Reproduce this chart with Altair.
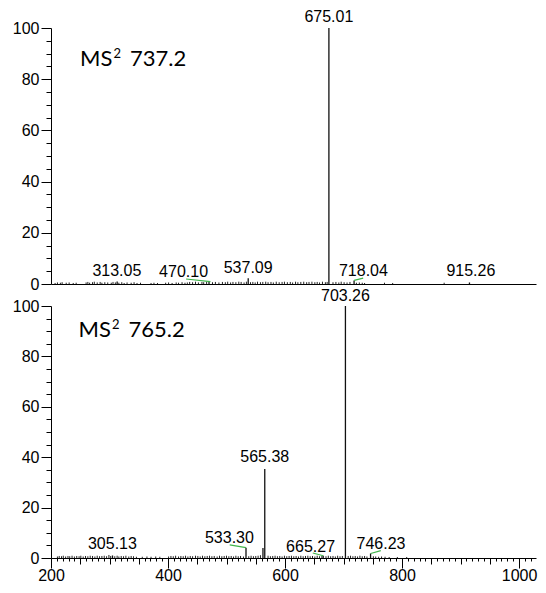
import altair as alt
import pandas as pd

# ---------------- data ----------------
# Panel 1: MS2 737.2
top_precursor = "737.2"
top_peak_mz = [313.05, 470.10, 537.09, 675.01, 718.04, 915.26]
top_peak_int = [1.0, 0.9, 2.2, 100.0, 1.4, 0.6]
top_label_text = ["313.05", "470.10", "537.09", "675.01", "718.04", "915.26"]
top_label_mz = [312.6, 426.6, 537.0, 675.0, 734.0, 917.7]
top_label_int = [3.0, 2.7, 4.3, 102.5, 3.0, 3.0]
top_leader_x1 = [430.9, 718.2]
top_leader_y1 = [1.95, 1.4]
top_leader_x2 = [472.5, 733.6]
top_leader_y2 = [0.9, 2.3]
top_noise = [
    (207, .4), (211, .6), (216, .5), (219, .7), (226, .5), (231, .6), (238, .4), (243, .5),
    (260, .6), (263, .8), (266, .5), (271, .7), (274, .9), (279, .6), (284, .8), (287, .5),
    (292, .7), (297, .6), (303, .5), (306, .8), (310, .6), (316, .5), (321, .7), (325, .4),
    (330, .6), (337, .5), (342, .7), (347, .4), (353, .5),
    (371, .4), (376, .5), (382, .4),
    (396, .5), (401, .6), (407, .4), (414, .6), (418, .5), (424, .7), (429, .5),
    (433, .6), (437, .8), (442, .7), (447, .9), (452, .6), (458, .8), (461, .7), (466, .9),
    (476, .7), (481, .8), (487, .6), (493, .8),
    (498, .7), (502, .9), (507, .6), (511, .8), (516, .7), (521, .9), (525, .8), (530, .6),
    (534, .9), (541, .7), (545, .8), (549, .6), (553, .9), (558, .7), (562, .8), (567, .9),
    (571, .7), (576, .8), (580, .6), (585, .9), (590, .7), (595, .8), (599, .9), (604, .7),
    (609, .8), (613, .6), (618, .9), (622, .7), (627, .8), (632, .9), (637, .7), (641, .8),
    (646, .9), (651, .7), (655, .8), (659, .6), (664, .9), (669, .7), (672, .8),
    (682, .7), (687, .8), (692, .6), (696, .9), (701, .7), (706, .6), (711, .8), (722, .5),
    (727, .6), (732, .5), (736, .4),
    (770, .5), (784, .4), (872, .5),
]

# Panel 2: MS2 765.2
bot_precursor = "765.2"
bot_peak_mz = [305.13, 533.30, 562.3, 565.38, 665.27, 703.26, 746.23]
bot_peak_int = [1.0, 4.1, 4.0, 35.3, 0.9, 100.0, 1.8]
bot_label_text = ["305.13", "533.30", "565.38", "665.27", "703.26", "746.23"]
bot_label_mz = [305.0, 505.0, 565.4, 643.7, 703.3, 764.0]
bot_label_int = [3.4, 5.9, 38.0, 2.5, 102.0, 3.4]
bot_leader_x1 = [505.5, 647.5, 746.5]
bot_leader_y1 = [5.2, 2.0, 1.8]
bot_leader_x2 = [533.3, 665.3, 763.7]
bot_leader_y2 = [4.1, 0.9, 2.9]
bot_noise = [
    (211, .6), (214, .8), (218, .7), (221, .9), (225, .6), (229, .8), (232, .7), (236, .9),
    (240, .6), (244, .8), (248, .7), (251, .9), (255, .6), (259, .8), (263, .7), (267, .9),
    (271, .8), (275, .6), (279, .9), (283, .7), (287, .8), (291, .9), (295, .7), (299, 1.2),
    (302, .8), (309, .7), (313, .9), (316, .6), (320, .8), (324, .7), (328, .9), (333, .6),
    (337, .8), (341, .7), (346, .5),
    (356, .5), (364, .6), (371, .5), (379, .6), (386, .5),
    (401, .6), (405, .8), (409, .7), (413, .9), (418, .6), (422, .8), (426, .7), (430, .9),
    (434, .6), (438, .8), (442, .7), (447, .9), (451, .8), (455, .6), (459, .9), (463, .7),
    (467, .8), (471, .9), (475, .7), (479, .8), (484, .6), (488, .9), (492, .7), (496, .8),
    (500, .9), (504, .7), (508, .8), (512, .6), (516, .9), (520, .7), (524, .8), (529, .6),
    (538, .7), (542, .9), (546, .7), (550, .8), (554, .9), (558, 1.1),
    (571, .9), (575, .7), (579, .8), (583, .9), (587, .7), (591, .8), (595, .6), (599, .9),
    (603, .7), (607, .8), (611, .9), (615, .7), (619, .8), (623, .6), (627, .9), (631, .7),
    (635, .8), (639, .9), (643, .7), (647, .8), (651, .6), (655, .9), (659, .7), (663, .8),
    (670, .7), (674, .9), (678, .7), (682, .8), (686, .6), (690, .9), (694, .7), (698, .8),
    (708, .8), (712, .9), (716, .7), (720, .8), (724, .6), (728, .9), (732, .7), (736, .8),
    (740, .6), (751, .7), (755, .6), (760, .5), (765, .6), (771, .5), (778, .4), (792, .4),
    (808, .4),
]

# axis ticks
x_major = [200, 400, 600, 800, 1000]
x_medium = [v for v in range(200, 1030, 50) if v % 200 != 0]
x_minor = [v for v in range(200, 1030, 10) if v % 50 != 0]
y_major = [0, 20, 40, 60, 80, 100]
y_minor = [v for v in range(0, 101, 5) if v % 20 != 0]

X_DOMAIN = [200, 1029]
LABEL_FONT = "Liberation Sans"
TITLE_FONT = "Lato"
GREEN = "#3fb54a"


def panel(precursor, tmz, tint, pmz, pint, noise, lmz, lint, ltxt,
          lx1, ly1, lx2, ly2, height, show_x):
    xs = alt.Scale(domain=X_DOMAIN, nice=False, zero=False)
    ys = alt.Scale(domain=[0, 100], nice=False)

    noise_df = pd.DataFrame(noise, columns=["mz", "inten"])
    peak_df = pd.DataFrame({"mz": pmz, "inten": pint})
    lab_df = pd.DataFrame({"mz": lmz, "inten": lint, "txt": ltxt})
    lead_df = pd.DataFrame({"x1": lx1, "y1": ly1, "x2": lx2, "y2": ly2})
    title_df = pd.DataFrame({"mz": [tmz], "inten": [tint]})

    def ax_layer(xaxis, yaxis):
        return alt.Chart(peak_df).mark_point(opacity=0, size=1).encode(
            x=alt.X("mz:Q", scale=xs, axis=xaxis),
            y=alt.Y("inten:Q", scale=ys, axis=yaxis))

    common = dict(title=None, grid=False, tickColor="#000", domainColor="#000",
                  labelFont=LABEL_FONT, labelFontSize=16, labelColor="#000")
    y_main = alt.Axis(orient="left", values=y_major, format="d", tickSize=10,
                      labelPadding=2, labelFlush=False, labelOverlap=False, **common)
    y_min = alt.Axis(orient="left", values=y_minor, tickSize=5, labels=False,
                     domain=False, title=None, grid=False, tickColor="#000")
    if show_x:
        x_main = alt.Axis(orient="bottom", values=x_major, format="d", tickSize=10,
                          labelPadding=-1, labelFlush=False, labelOverlap=False, **common)
        x_med = alt.Axis(orient="bottom", values=x_medium, tickSize=6, labels=False,
                         domain=False, title=None, grid=False, tickColor="#000")
        x_min = alt.Axis(orient="bottom", values=x_minor, tickSize=3, labels=False,
                         domain=False, title=None, grid=False, tickColor="#000")
        axes = [ax_layer(x_main, y_main), ax_layer(x_med, y_min), ax_layer(x_min, None)]
    else:
        x_main = alt.Axis(orient="bottom", values=x_major, ticks=False, labels=False,
                          title=None, grid=False, domainColor="#000")
        axes = [ax_layer(x_main, y_main), ax_layer(None, y_min)]

    noise_l = alt.Chart(noise_df).mark_rule(color="#222", strokeWidth=1).encode(
        x=alt.X("mz:Q", scale=xs, axis=None),
        y=alt.Y("inten:Q", scale=ys, axis=None),
        y2=alt.datum(0))
    peaks = alt.Chart(peak_df).mark_rule(color="#111", strokeWidth=1.3).encode(
        x=alt.X("mz:Q", scale=xs, axis=None),
        y=alt.Y("inten:Q", scale=ys, axis=None), y2=alt.datum(0))
    leaders = alt.Chart(lead_df).mark_rule(color=GREEN, strokeWidth=1.2).encode(
        x=alt.X("x1:Q", scale=xs, axis=None), x2="x2:Q",
        y=alt.Y("y1:Q", scale=ys, axis=None), y2="y2:Q")
    labels = alt.Chart(lab_df).mark_text(font=LABEL_FONT, fontSize=16,
                                         baseline="alphabetic", align="center",
                                         color="#000").encode(
        x=alt.X("mz:Q", scale=xs, axis=None),
        y=alt.Y("inten:Q", scale=ys, axis=None), text="txt:N")

    def ttl_part(txt, size, dx, dy):
        return alt.Chart(title_df).mark_text(
            font=TITLE_FONT, fontSize=size, align="left", baseline="alphabetic",
            color="#000", dx=dx, dy=dy, text=txt).encode(
            x=alt.X("mz:Q", scale=xs, axis=None),
            y=alt.Y("inten:Q", scale=ys, axis=None))

    ttl = [ttl_part("MS", 22, 0, 0), ttl_part("2", 13, 33.5, -7.5),
           ttl_part(precursor, 22, 50, 0)]

    return alt.layer(*axes, noise_l, peaks, leaders, labels, *ttl).resolve_axis(
        x="independent", y="independent").properties(width=485, height=height)


top = panel(top_precursor, 249.5, 85.3, top_peak_mz, top_peak_int, top_noise,
            top_label_mz, top_label_int, top_label_text,
            top_leader_x1, top_leader_y1, top_leader_x2, top_leader_y2, 256, False)
bot = panel(bot_precursor, 247.0, 87.8, bot_peak_mz, bot_peak_int, bot_noise,
            bot_label_mz, bot_label_int, bot_label_text,
            bot_leader_x1, bot_leader_y1, bot_leader_x2, bot_leader_y2, 252, True)

chart = alt.vconcat(top, bot, spacing=22, bounds="flush").properties(
    padding={"left": 3, "top": 0, "right": 0, "bottom": -2}
).configure_view(stroke="transparent")

chart.save("out.html", embed_options={"renderer": "svg", "actions": False})
